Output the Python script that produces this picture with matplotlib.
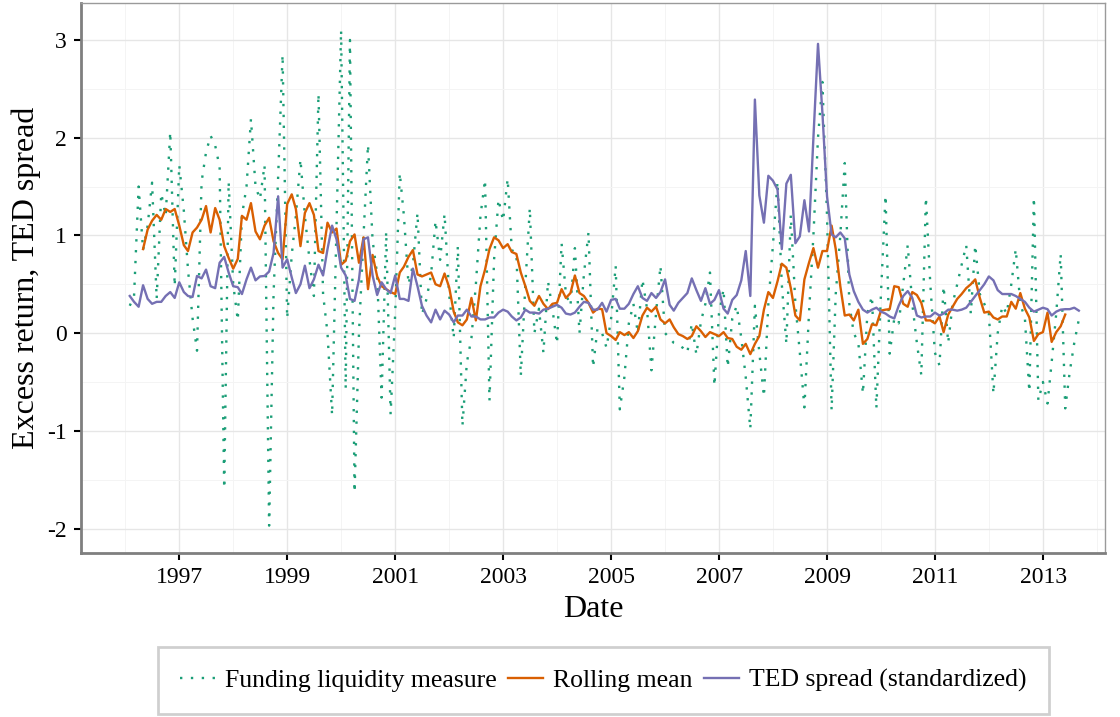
import matplotlib
matplotlib.use("Agg")
import matplotlib.pyplot as plt
import numpy as np
import pandas as pd
from datetime import datetime

plt.rcParams["font.family"] = ["Liberation Serif", "DejaVu Serif"]
plt.rcParams["axes.unicode_minus"] = False

# monthly observations, Jan 1996 .. Aug 2013 (month-end dates)
dates = pd.date_range("1996-01-31", periods=212, freq="ME")

funding = [
    0.28, 0.38, 1.50, 0.85, 1.10, 1.54, 0.35, 1.43, 1.20, 2.06, 0.48, 1.72,
    1.25, 0.65, 0.15, -0.18, 1.55, 1.85, 2.02, 1.92, 1.70, -1.59, 1.55, 0.50,
    0.13, 1.20, 1.50, 2.19, 1.50, 1.37, 1.72, -1.97, 0.40, 1.60, 2.85, 0.15,
    0.80, 1.20, 1.78, 1.20, 0.75, 0.38, 2.45, 0.40, 0.00, -0.84, 1.10, 3.10,
    -0.57, 3.00, -1.63, 0.00, 1.00, 1.93, 0.95, 0.60, -0.66, 1.04, -0.83, 0.20,
    1.64, 1.20, 0.50, 0.70, 1.23, 0.19, 0.35, 0.60, 1.15, 0.75, 1.22, 0.40,
    -0.05, 0.89, -0.95, -0.30, -0.05, 0.50, 1.20, 1.57, -0.69, 0.75, 1.37, 1.15,
    1.58, 0.85, 0.82, -0.44, 0.50, 1.28, 0.00, 0.25, -0.20, 0.53, 0.25, -0.11,
    0.92, 0.40, 0.28, 0.87, 0.00, 0.60, 1.03, -0.35, 0.05, 0.00, -0.15, 0.15,
    0.69, -0.78, -0.45, 0.10, 0.30, 0.00, 0.55, 0.25, -0.38, 0.20, 0.69, 0.00,
    -0.05, -0.10, -0.12, -0.15, -0.20, 0.10, -0.22, 0.12, 0.30, 0.62, -0.54, 0.20,
    0.45, -0.35, 0.15, 0.28, -0.05, -0.45, -0.98, 0.28, -0.20, -0.65, 0.30, 0.90,
    1.55, 0.50, -0.11, 1.21, 0.30, -0.20, -0.76, 0.20, 1.00, 2.00, 2.57, 1.20,
    -0.79, 0.40, 1.00, 1.74, 0.30, 0.00, -0.10, -0.62, 0.20, 0.38, -0.77, 0.40,
    1.41, -0.21, 0.15, 0.10, 0.50, 0.90, 0.30, -0.10, -0.43, 1.39, 0.50, -0.20,
    -0.33, 0.48, -0.10, 0.30, 0.50, 0.70, 0.90, 0.20, 0.90, 0.40, 0.30, 0.20,
    -0.62, 0.00, 0.28, 0.20, 0.50, 0.86, 0.30, 0.15, -0.60, 1.39, -0.69, -0.50,
    -0.72, -0.30, 0.20, 0.81, -0.77, -0.40, -0.10, 0.14,
]

rolling = [
    np.nan, np.nan, np.nan, 0.86, 1.06, 1.15, 1.21, 1.16, 1.27, 1.24, 1.27, 1.10,
    0.90, 0.84, 1.03, 1.08, 1.16, 1.30, 1.03, 1.28, 1.16, 0.89, 0.77, 0.66,
    0.76, 1.20, 1.16, 1.33, 1.04, 0.96, 1.10, 1.18, 0.94, 0.82, 0.755, 1.32,
    1.42, 1.27, 0.89, 1.23, 1.33, 1.21, 0.84, 0.82, 1.13, 1.03, 1.07, 0.70,
    0.74, 0.94, 1.01, 0.72, 0.98, 0.45, 0.80, 0.58, 0.48, 0.45, 0.42, 0.40,
    0.62, 0.68, 0.78, 0.85, 0.60, 0.58, 0.60, 0.62, 0.50, 0.48, 0.61, 0.47,
    0.22, 0.11, 0.08, 0.14, 0.36, 0.13, 0.48, 0.65, 0.86, 0.98, 0.95, 0.87,
    0.91, 0.83, 0.81, 0.62, 0.48, 0.33, 0.28, 0.38, 0.30, 0.245, 0.30, 0.31,
    0.45, 0.36, 0.41, 0.59, 0.41, 0.38, 0.31, 0.21, 0.25, 0.245, 0.00, -0.03,
    -0.07, 0.01, -0.02, 0.01, -0.05, 0.02, 0.18, 0.26, 0.22, 0.27, 0.14, 0.10,
    0.14, 0.06, -0.01, -0.03, -0.06, -0.03, 0.07, 0.02, -0.04, 0.01, -0.01, -0.03,
    0.01, -0.05, -0.06, -0.14, -0.17, -0.11, -0.215, -0.11, -0.03, 0.24, 0.42, 0.36,
    0.53, 0.71, 0.67, 0.46, 0.18, 0.13, 0.55, 0.72, 0.87, 0.67, 0.84, 0.84,
    1.10, 0.86, 0.48, 0.18, 0.19, 0.13, 0.24, -0.11, -0.06, 0.09, 0.08, 0.23,
    0.24, 0.245, 0.48, 0.47, 0.30, 0.27, 0.42, 0.39, 0.31, 0.13, 0.13, 0.10,
    0.17, 0.01, 0.19, 0.27, 0.35, 0.40, 0.46, 0.50, 0.55, 0.36, 0.21, 0.22,
    0.16, 0.14, 0.17, 0.17, 0.32, 0.25, 0.41, 0.25, 0.16, -0.08, -0.01, 0.01,
    0.21, -0.09, 0.01, 0.07, 0.19, np.nan, np.nan, np.nan,
]

ted = [
    0.38, 0.32, 0.27, 0.49, 0.35, 0.30, 0.32, 0.32, 0.38, 0.42, 0.36, 0.52,
    0.42, 0.38, 0.37, 0.585, 0.56, 0.65, 0.48, 0.46, 0.72, 0.78, 0.62, 0.48,
    0.47, 0.40, 0.55, 0.67, 0.54, 0.58, 0.585, 0.63, 0.82, 1.40, 0.67, 0.755,
    0.57, 0.41, 0.50, 0.69, 0.46, 0.55, 0.70, 0.59, 0.86, 1.10, 0.96, 0.67,
    0.59, 0.35, 0.33, 0.55, 0.96, 0.98, 0.59, 0.39, 0.52, 0.45, 0.41, 0.59,
    0.35, 0.35, 0.33, 0.66, 0.48, 0.28, 0.18, 0.11, 0.24, 0.14, 0.23, 0.19,
    0.11, 0.18, 0.18, 0.24, 0.17, 0.17, 0.14, 0.14, 0.16, 0.16, 0.21, 0.24,
    0.22, 0.17, 0.13, 0.16, 0.24, 0.21, 0.21, 0.20, 0.24, 0.25, 0.27, 0.29,
    0.26, 0.20, 0.19, 0.21, 0.27, 0.32, 0.31, 0.24, 0.24, 0.31, 0.22, 0.34,
    0.35, 0.25, 0.25, 0.30, 0.40, 0.48, 0.36, 0.33, 0.41, 0.36, 0.42, 0.55,
    0.29, 0.23, 0.31, 0.36, 0.41, 0.56, 0.44, 0.33, 0.46, 0.30, 0.34, 0.44,
    0.25, 0.20, 0.34, 0.39, 0.54, 0.84, 0.38, 2.39, 1.41, 1.13, 1.61, 1.56,
    1.47, 0.86, 1.53, 1.62, 0.92, 0.99, 1.36, 1.04, 2.00, 2.96, 2.25, 1.40,
    1.01, 0.98, 1.03, 0.97, 0.60, 0.43, 0.32, 0.24, 0.21, 0.24, 0.26, 0.22,
    0.20, 0.17, 0.15, 0.28, 0.38, 0.43, 0.36, 0.18, 0.16, 0.17, 0.17, 0.21,
    0.18, 0.20, 0.24, 0.24, 0.23, 0.24, 0.26, 0.32, 0.38, 0.44, 0.50, 0.58,
    0.54, 0.44, 0.40, 0.40, 0.40, 0.38, 0.35, 0.32, 0.26, 0.22, 0.24, 0.26,
    0.245, 0.18, 0.22, 0.24, 0.245, 0.245, 0.26, 0.23,
]

GREEN, ORANGE, PURPLE = "#1B9E77", "#D95F02", "#7570B3"

fig = plt.figure(figsize=(11.2, 7.17), dpi=100)
ax = fig.add_axes([80.7 / 1120, 1 - 553 / 717, 1024.3 / 1120, 549.7 / 717])

ax.plot(dates, funding, color=GREEN, lw=1.7, ls=(0, (1, 3.6)),
        label="Funding liquidity measure", zorder=3)
ax.plot(dates, rolling, color=ORANGE, lw=1.7, label="Rolling mean", zorder=4)
ax.plot(dates, ted, color=PURPLE, lw=1.7, label="TED spread (standardized)", zorder=5)

ax.set_xlim(datetime(1995, 3, 5), datetime(2014, 2, 24))
ax.set_ylim(-2.25, 3.375)

ax.set_xticks([datetime(y, 1, 1) for y in range(1997, 2014, 2)])
ax.set_xticklabels([str(y) for y in range(1997, 2014, 2)])
ax.set_xticks([datetime(y, 1, 1) for y in range(1996, 2015, 2)], minor=True)
ax.set_yticks([-2, -1, 0, 1, 2, 3])
ax.set_yticklabels(["-2", "-1", "0", "1", "2", "3"])
ax.set_yticks([-1.5, -0.5, 0.5, 1.5, 2.5], minor=True)

ax.grid(which="major", color="#E6E6E6", lw=1.0, zorder=0)
ax.grid(which="minor", color="#F4F4F4", lw=0.7, zorder=0)
ax.set_axisbelow(True)

for side in ("top", "right"):
    ax.spines[side].set_color("#9A9A9A")
    ax.spines[side].set_linewidth(1.0)
for side in ("left", "bottom"):
    ax.spines[side].set_color("#7F7F7F")
    ax.spines[side].set_linewidth(2.0)

ax.tick_params(which="major", length=5, width=1.5, color="black", labelsize=17,
               labelcolor="black", pad=5)
ax.tick_params(which="minor", length=0)

ax.set_xlabel("Date", fontsize=23)
ax.xaxis.set_label_coords(0.5, -0.076)
ax.set_ylabel("Excess return, TED spread", fontsize=23)
ax.yaxis.set_label_coords(-0.039, 0.5)

leg = fig.legend(loc="center", bbox_to_anchor=(603.5 / 1120, 1 - 680.5 / 717), ncol=3,
                 fontsize=18.5, frameon=True, fancybox=False, edgecolor="#C4C4C4",
                 handlelength=1.35, handletextpad=0.4, columnspacing=0.45,
                 borderpad=0.85, borderaxespad=0)
leg.get_frame().set_linewidth(2.0)

fig.savefig("out.png", dpi=100)
